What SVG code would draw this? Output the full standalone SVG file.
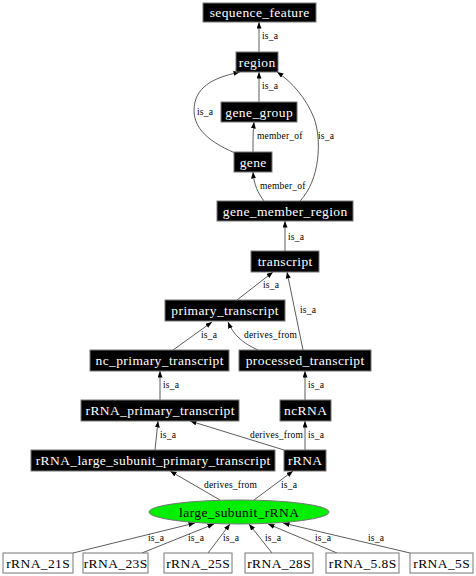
<svg xmlns="http://www.w3.org/2000/svg" width="476" height="576" viewBox="0 0 476 576">
<defs>
<marker id="arr" markerUnits="userSpaceOnUse" markerWidth="7" markerHeight="6" refX="6.5" refY="2.5" orient="auto">
<path d="M0,0 L6.5,2.5 L0,5 z" fill="#000"/>
</marker>
<style>
.n rect{fill:#000;stroke:#777;stroke-width:1}
.n text{fill:#fff;font-family:"Liberation Serif",serif;font-size:13.5px;letter-spacing:0.4px;text-anchor:middle}
.w rect{fill:#fff;stroke:#777;stroke-width:1}
.w text{fill:#000;font-family:"Liberation Serif",serif;font-size:13.5px;letter-spacing:0.4px;text-anchor:middle}
.e path{fill:none;stroke:#333;stroke-width:0.8;marker-end:url(#arr)}
.e text{fill:#000;font-family:"Liberation Serif",serif;font-size:9.5px;letter-spacing:0.2px}
</style>
</defs>
<rect width="476" height="576" fill="#fff"/>
<g id="connectors" class="e">
<path d="M259,52 L259,22"/><text x="262" y="39">is_a</text>
<path d="M259,102 L259,72"/><text x="262" y="89">is_a</text>
<path d="M235,153 C205,140 190,125 195,102 C200,82 222,76 240,72"/><text x="197" y="115">is_a</text>
<path d="M253,152 C253,140 253,132 254,122"/><text x="257" y="139">member_of</text>
<path d="M264,201 C258,193 254,185 253,172"/><text x="260" y="189">member_of</text>
<path d="M300,201 C320,180 322,140 314,118 C306,98 292,82 277,72"/><text x="318" y="139">is_a</text>
<path d="M285,251 L285,221"/><text x="288" y="240">is_a</text>
<path d="M237,300 L273,272"/><text x="263" y="288">is_a</text>
<path d="M303,350 L287,272"/><text x="300" y="313">is_a</text>
<path d="M173,350 L212,322"/><text x="201" y="338">is_a</text>
<path d="M258,350 C242,343 233,334 228,322"/><text x="244" y="338">derives_from</text>
<path d="M160,400 L160,371"/><text x="163" y="388">is_a</text>
<path d="M305,400 L305,371"/><text x="308" y="388">is_a</text>
<path d="M155,450 L158,421"/><text x="160" y="438">is_a</text>
<path d="M284,450 L190,421"/><text x="250" y="438">derives_from</text>
<path d="M305,450 L305,421"/><text x="308" y="438">is_a</text>
<path d="M220,500 L170,471"/><text x="204" y="488">derives_from</text>
<path d="M254,500 L293,471"/><text x="281" y="488">is_a</text>
<path d="M73,553 L195,523"/><text x="148" y="541">is_a</text>
<path d="M142,553 L214,524"/><text x="188" y="541">is_a</text>
<path d="M208,553 L230,524"/><text x="223" y="541">is_a</text>
<path d="M272,553 L249,524"/><text x="265" y="541">is_a</text>
<path d="M337,553 L268,524"/><text x="315" y="541">is_a</text>
<path d="M410,553 L283,523"/><text x="368" y="541">is_a</text>
</g>
<g id="sequence_feature" class="n"><rect x="203" y="3" width="113" height="19"/><text x="259.7" y="17">sequence_feature</text></g>
<g id="region" class="n"><rect x="236" y="52" width="42" height="20"/><text x="257.2" y="66.5">region</text></g>
<g id="gene_group" class="n"><rect x="221" y="102" width="76" height="20"/><text x="259.2" y="116.5">gene_group</text></g>
<g id="gene" class="n"><rect x="234" y="152" width="38" height="20"/><text x="253.2" y="166.5">gene</text></g>
<g id="gene_member_region" class="n"><rect x="217" y="201" width="136" height="20"/><text x="285.2" y="215.5">gene_member_region</text></g>
<g id="transcript" class="n"><rect x="251" y="251" width="68" height="21"/><text x="285.2" y="266">transcript</text></g>
<g id="primary_transcript" class="n"><rect x="165" y="300" width="120" height="21"/><text x="225.2" y="315">primary_transcript</text></g>
<g id="nc_primary_transcript" class="n"><rect x="90" y="350" width="139" height="21"/><text x="159.7" y="365">nc_primary_transcript</text></g>
<g id="processed_transcript" class="n"><rect x="239" y="350" width="132" height="21"/><text x="305.2" y="365">processed_transcript</text></g>
<g id="rRNA_primary_transcript" class="n"><rect x="81" y="400" width="158" height="21"/><text x="160.2" y="415">rRNA_primary_transcript</text></g>
<g id="ncRNA" class="n"><rect x="280" y="400" width="51" height="21"/><text x="305.7" y="415">ncRNA</text></g>
<g id="rRNA_large_subunit_primary_transcript" class="n"><rect x="31" y="450" width="244" height="21"/><text x="153.2" y="465">rRNA_large_subunit_primary_transcript</text></g>
<g id="rRNA" class="n"><rect x="284" y="450" width="42" height="21"/><text x="305.2" y="465">rRNA</text></g>
<g id="large_subunit_rRNA"><ellipse cx="239" cy="512" rx="90" ry="12" fill="#00ee00" stroke="#777" stroke-width="1"/><text x="239.2" y="516.5" font-family="Liberation Serif, serif" font-size="13.5" letter-spacing="0.4" text-anchor="middle" fill="#000">large_subunit_rRNA</text></g>
<g id="rRNA_21S" class="w"><rect x="3" y="553" width="70" height="20"/><text x="38.2" y="567.5">rRNA_21S</text></g>
<g id="rRNA_23S" class="w"><rect x="83" y="553" width="65" height="20"/><text x="115.7" y="567.5">rRNA_23S</text></g>
<g id="rRNA_25S" class="w"><rect x="164" y="553" width="68" height="20"/><text x="198.2" y="567.5">rRNA_25S</text></g>
<g id="rRNA_28S" class="w"><rect x="245" y="553" width="68" height="20"/><text x="279.2" y="567.5">rRNA_28S</text></g>
<g id="rRNA_5.8S" class="w"><rect x="326" y="553" width="73" height="20"/><text x="362.7" y="567.5">rRNA_5.8S</text></g>
<g id="rRNA_5S" class="w"><rect x="410" y="553" width="63" height="20"/><text x="441.7" y="567.5">rRNA_5S</text></g>
</svg>
